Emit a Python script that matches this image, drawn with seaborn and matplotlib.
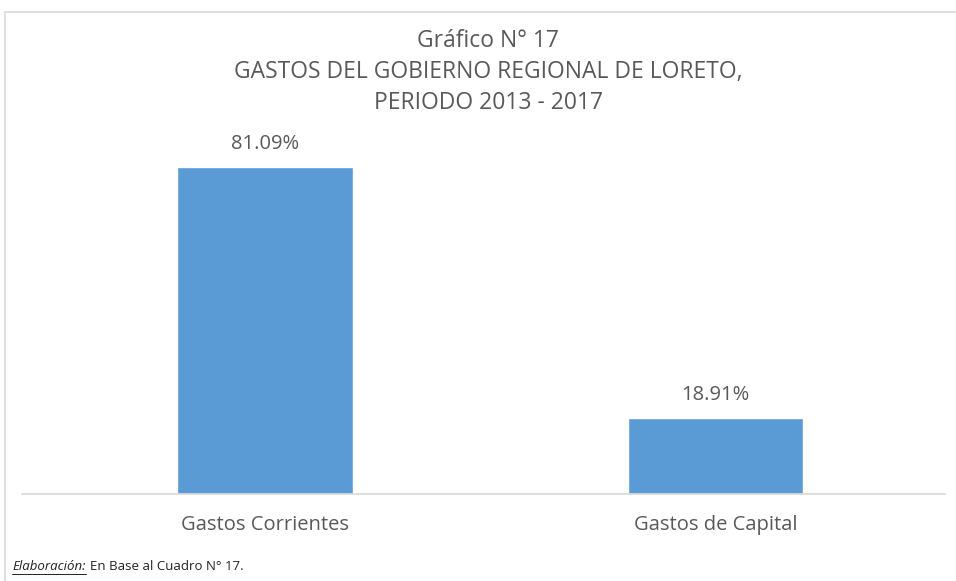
import matplotlib
matplotlib.use("Agg")
import matplotlib.pyplot as plt
import seaborn as sns
import pandas as pd
from matplotlib.patches import Rectangle

categories = ["Gastos Corrientes", "Gastos de Capital"]
values = [81.09, 18.91]
labels = ["81.09%", "18.91%"]

sns.set_theme(style="white")
plt.rcParams['font.family'] = ['Open Sans', 'DejaVu Sans']

W, H = 956, 581
fig = plt.figure(figsize=(W/100, H/100), dpi=100)
ax = fig.add_axes([22/W, 1 - 494/H, (945-22)/W, (494-131)/H])

df = pd.DataFrame({"cat": categories, "val": values})
sns.barplot(data=df, x="cat", y="val", color="#5b9bd5", width=0.39, saturation=1, ax=ax)
ax.set_xlim(-0.538, 1.509)
ax.set_ylim(0, 90)
for p, lab in zip(ax.patches, labels):
    ax.annotate(lab, (p.get_x() + p.get_width()/2, p.get_height()),
                xytext=(0, 9), textcoords="offset points", ha="center", va="bottom",
                fontsize=14.5, color="#595959")
ax.set_xlabel("")
ax.set_ylabel("")
ax.set_yticks([])
ax.tick_params(axis="x", length=0, pad=15, labelsize=14.5, labelcolor="#595959")
for s in ["top", "right", "left"]:
    ax.spines[s].set_visible(False)
ax.spines["bottom"].set_color("#d9d9d9")
ax.spines["bottom"].set_linewidth(1.2)

fig.patches.append(Rectangle((5/W, -0.01), 1.0, 1 - 12/H + 0.01, transform=fig.transFigure,
                             fill=False, edgecolor="#d9d9d9", linewidth=1.2))

title_lines = ["Gráfico N° 17", "GASTOS DEL GOBIERNO REGIONAL DE LORETO,", "PERIODO 2013 - 2017"]
for i, t in enumerate(title_lines):
    fig.text(488/W, 1 - (41 + 31*i)/H, t, ha="center", va="center", fontsize=16.5, color="#595959")

y_note = 1 - 566/H
t1 = fig.text(12/W, y_note, "Elaboración:", ha="left", va="center", fontsize=9.5,
              style="italic", color="#222222")
fig.canvas.draw()
bb = t1.get_window_extent(fig.canvas.get_renderer())
x_end = bb.x1 / W
fig.text(x_end + 4/W, y_note, "En Base al Cuadro N° 17.", ha="left", va="center", fontsize=9.5,
         color="#222222")
fig.add_artist(plt.Line2D([bb.x0 / W, x_end], [bb.y0 / H - 1/H, bb.y0 / H - 1/H], transform=fig.transFigure,
                          color="#222222", linewidth=0.7))

fig.savefig("out.png", dpi=100)
